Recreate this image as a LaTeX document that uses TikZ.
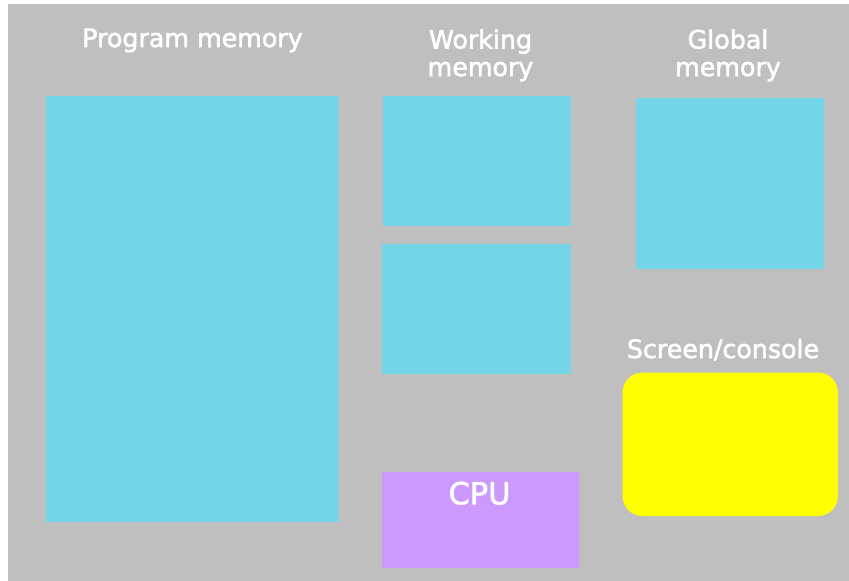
\documentclass[tikz,border=0pt]{standalone}
\usepackage{fontspec}
\newfontfamily\labelfont{DejaVu Sans}[FakeBold=2]
\definecolor{panel}{HTML}{BFBFBF}
\definecolor{memcyan}{HTML}{74D5E8}
\definecolor{cpuviolet}{HTML}{CC99FF}
\definecolor{screenyellow}{HTML}{FFFF00}
\begin{document}
\begin{tikzpicture}[x=1pt,y=-1pt,
  region/.style={fill=memcyan,draw=none},
  heading/.style={text=white,font=\labelfont\fontsize{25.3}{27.5}\selectfont,align=center,inner sep=0pt,anchor=base}]
\useasboundingbox (0,0) rectangle (849,581);
% grey backdrop
\fill[panel] (8,4) rectangle (849,581);
% memory areas
\path[region] (46,96) rectangle (339,522);
\path[region] (383,96) rectangle (571,225.5);
\path[region] (381.5,243.5) rectangle (571,373.5);
\path[region] (636,98) rectangle (823.5,269);
% CPU
\fill[cpuviolet] (382,472) rectangle (579,567.5);
% screen / console
\fill[screenyellow,rounded corners=20pt] (622.5,372.5) rectangle (838,516);
% labels (base anchor sits on the last line's baseline)
\node[heading] (prog) at (192.5,47) {Program memory};
\node[heading] (work) at (480.5,76) {Working\\memory};
\node[heading] (glob) at (728,76) {Global\\memory};
\node[heading] (scr) at (723,358) {Screen/console};
\node[heading,font=\labelfont\fontsize{30.5}{36}\selectfont] (cpu) at (479.5,504.3) {CPU};
\end{tikzpicture}
\end{document}
